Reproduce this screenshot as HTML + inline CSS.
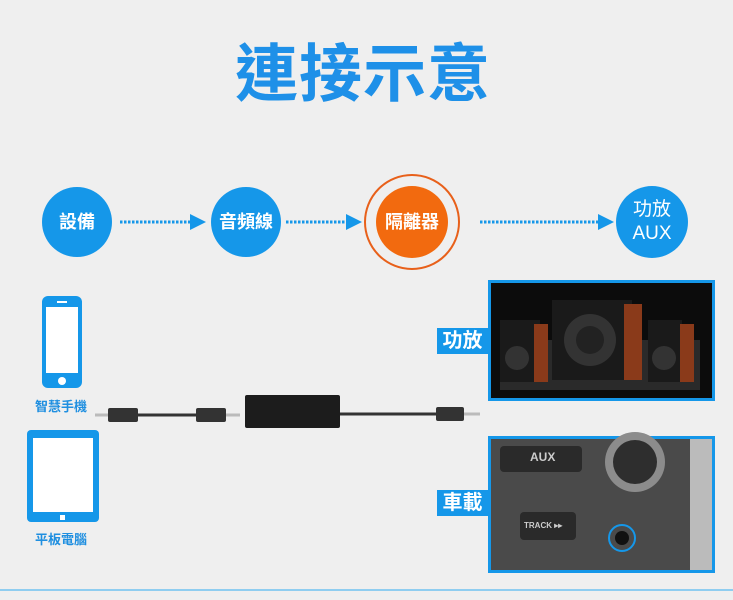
<!DOCTYPE html>
<html><head><meta charset="utf-8"><style>
body{margin:0;width:733px;height:600px;background:#efefef;position:relative;overflow:hidden;font-family:"Liberation Sans","Noto Sans CJK TC",sans-serif}
.a{position:absolute}
.c{position:absolute;border-radius:50%;background:#1597e9;color:#fff;display:flex;align-items:center;justify-content:center;text-align:center;font-weight:bold;font-size:18px;line-height:24px}
.lab{position:absolute;background:#1597e9;color:#fff;font-weight:bold;font-size:20px;text-align:center;line-height:26px}
.t{position:absolute;color:#1f8fe0;font-size:13px;font-weight:bold}
</style></head><body>
<div class="a" style="left:213px;top:38px;width:300px;text-align:center;font-size:63px;font-weight:bold;color:#1e90e8;line-height:74px;letter-spacing:1px">連接示意</div>

<svg class="a" style="left:0;top:0" width="733" height="600">
<g stroke="#1597e9" stroke-width="3" stroke-dasharray="2.5 1.5">
<line x1="120" y1="222" x2="192" y2="222"/>
<line x1="286" y1="222" x2="348" y2="222"/>
<line x1="480" y1="222" x2="600" y2="222"/>
</g>
<g fill="#1597e9">
<polygon points="190,214 206,222 190,230"/>
<polygon points="346,214 362,222 346,230"/>
<polygon points="598,214 614,222 598,230"/>
</g>
<circle cx="412" cy="222" r="47" fill="none" stroke="#e8601a" stroke-width="2"/>
<rect x="42" y="296" width="40" height="92" rx="6" fill="#1597e9"/>
<rect x="46" y="307" width="32" height="66" fill="#fff"/>
<rect x="57" y="301" width="10" height="2" fill="#fff"/>
<circle cx="62" cy="381" r="4" fill="#fff"/>
<rect x="27" y="430" width="72" height="92" rx="4" fill="#1597e9"/>
<rect x="33" y="438" width="60" height="74" fill="#fff"/>
<rect x="60" y="515" width="5" height="5" fill="#fff"/>
<line x1="95" y1="415" x2="110" y2="415" stroke="#bbb" stroke-width="3"/>
<rect x="108" y="408" width="30" height="14" rx="2" fill="#333"/>
<line x1="138" y1="415" x2="198" y2="415" stroke="#333" stroke-width="3"/>
<rect x="196" y="408" width="30" height="14" rx="2" fill="#333"/>
<line x1="226" y1="415" x2="240" y2="415" stroke="#bbb" stroke-width="3"/>
<rect x="245" y="395" width="95" height="33" rx="2" fill="#1c1c1c"/>
<line x1="340" y1="414" x2="438" y2="414" stroke="#333" stroke-width="3"/>
<rect x="436" y="407" width="28" height="14" rx="2" fill="#333"/>
<line x1="464" y1="414" x2="480" y2="414" stroke="#bbb" stroke-width="3"/>
<rect x="488" y="280" width="227" height="121" fill="#1597e9"/>
<rect x="491" y="283" width="221" height="115" fill="#0c0c0c"/>
<rect x="500" y="340" width="200" height="50" fill="#2a2a2a"/>
<rect x="500" y="320" width="40" height="62" fill="#1a1a1a"/><rect x="534" y="324" width="14" height="58" fill="#8a3a1a"/>
<rect x="552" y="300" width="80" height="80" fill="#1a1a1a"/><rect x="624" y="304" width="18" height="76" fill="#8a3a1a"/>
<circle cx="590" cy="340" r="26" fill="#333"/><circle cx="590" cy="340" r="14" fill="#222"/>
<rect x="648" y="320" width="34" height="62" fill="#1a1a1a"/><rect x="680" y="324" width="14" height="58" fill="#8a3a1a"/>
<circle cx="517" cy="358" r="12" fill="#333"/><circle cx="664" cy="358" r="12" fill="#333"/>
<rect x="488" y="436" width="227" height="137" fill="#1597e9"/>
<rect x="491" y="439" width="221" height="131" fill="#4a4a4a"/>
<rect x="500" y="446" width="82" height="26" rx="4" fill="#2a2a2a"/>
<circle cx="635" cy="462" r="30" fill="#8c8c8c"/><circle cx="635" cy="462" r="22" fill="#2e2e2e"/>
<rect x="520" y="512" width="56" height="28" rx="4" fill="#2a2a2a"/>
<circle cx="622" cy="538" r="13" fill="none" stroke="#1597e9" stroke-width="2"/><circle cx="622" cy="538" r="7" fill="#111"/>
<rect x="690" y="439" width="22" height="131" fill="#bbb"/>
<line x1="0" y1="590" x2="733" y2="590" stroke="#8fcdf0" stroke-width="2"/>
</svg>
<div class="a" style="left:530px;top:450px;color:#ccc;font-size:12px;font-weight:bold">AUX</div>
<div class="a" style="left:524px;top:521px;color:#ccc;font-size:8px;font-weight:bold">TRACK ▸▸</div>

<div class="c" style="left:42px;top:187px;width:70px;height:70px">設備</div>
<div class="c" style="left:211px;top:187px;width:70px;height:70px">音頻線</div>
<div class="c" style="left:376px;top:186px;width:72px;height:72px;background:#f26a0f">隔離器</div>
<div class="c" style="left:616px;top:186px;width:72px;height:72px;font-weight:normal;font-size:19px">功放<br>AUX</div>

<div class="lab" style="left:437px;top:328px;width:51px;height:26px">功放</div>
<div class="lab" style="left:437px;top:490px;width:51px;height:26px">車載</div>
<div class="t" style="left:35px;top:396px">智慧手機</div>
<div class="t" style="left:35px;top:529px">平板電腦</div>
</body></html>
